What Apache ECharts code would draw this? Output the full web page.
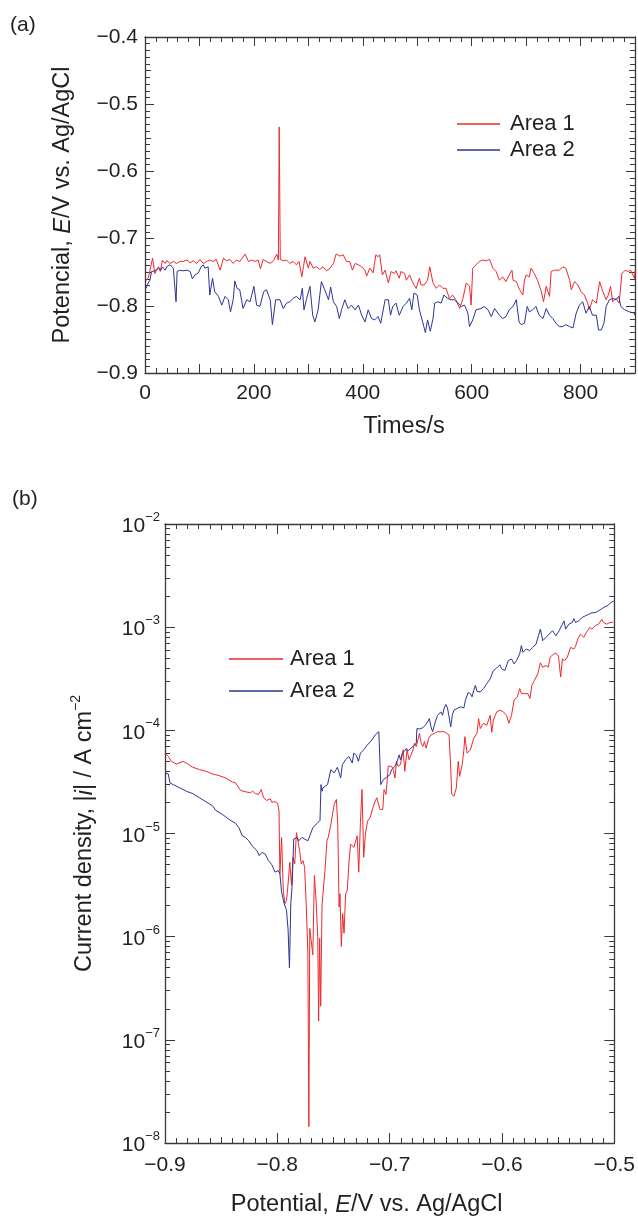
<!DOCTYPE html>
<html>
<head>
<meta charset="utf-8">
<script src="https://cdn.jsdelivr.net/npm/echarts@6/dist/echarts.min.js"></script>
<style>
html,body{margin:0;padding:0;background:#fff;}
#c{width:638px;height:1222px;}
</style>
</head>
<body>
<div id="c"></div>
<script>
// ---------- DATA ----------
const seriesNames = ['Area 1', 'Area 2'];

// (a) open circuit potential vs time: [time / s, E / V vs Ag/AgCl]
const ocpArea1 = [[2,-0.762],[6,-0.759],[14,-0.729],[18,-0.752],[21,-0.747],[25,-0.742],[28,-0.749],[32,-0.732],[37,-0.737],[40,-0.733],[46,-0.737],[52,-0.734],[58,-0.737],[64,-0.734],[70,-0.734],[77,-0.732],[83,-0.736],[89,-0.733],[95,-0.737],[101,-0.731],[107,-0.737],[113,-0.734],[119,-0.732],[125,-0.734],[131,-0.731],[138,-0.747],[144,-0.729],[150,-0.733],[156,-0.731],[162,-0.737],[168,-0.732],[174,-0.734],[184,-0.723],[190,-0.734],[196,-0.732],[202,-0.734],[208,-0.732],[212,-0.745],[217,-0.731],[223,-0.734],[230,-0.737],[236,-0.733],[242,-0.723],[245,-0.732],[246.5,-0.534],[248.5,-0.731],[254,-0.733],[260,-0.732],[266,-0.737],[272,-0.734],[278,-0.739],[283,-0.734],[288,-0.757],[291,-0.742],[294,-0.727],[300,-0.744],[303,-0.734],[309,-0.744],[315,-0.742],[321,-0.746],[327,-0.742],[333.5,-0.748],[340,-0.744],[346,-0.737],[351,-0.723],[358,-0.726],[364,-0.724],[370,-0.734],[376,-0.734],[381,-0.747],[386,-0.737],[392,-0.739],[398,-0.742],[404,-0.747],[407,-0.756],[413,-0.744],[419,-0.751],[424,-0.724],[428,-0.727],[431,-0.724],[436,-0.754],[441,-0.747],[447,-0.766],[452,-0.749],[458,-0.752],[461,-0.748],[467,-0.759],[470,-0.749],[477,-0.752],[480,-0.762],[486,-0.754],[492,-0.766],[498,-0.774],[504,-0.759],[507,-0.769],[513,-0.769],[519,-0.762],[523,-0.742],[529,-0.766],[535,-0.774],[541,-0.769],[547,-0.774],[553,-0.774],[559,-0.789],[565,-0.784],[571,-0.791],[578,-0.804],[584,-0.789],[590,-0.766],[596,-0.771],[599,-0.799],[602,-0.744],[608,-0.739],[614,-0.734],[620,-0.732],[627,-0.733],[633,-0.731],[639,-0.744],[645,-0.749],[651,-0.762],[657,-0.757],[663,-0.764],[669,-0.754],[674,-0.747],[676,-0.762],[682,-0.764],[688,-0.776],[694,-0.784],[697,-0.762],[700,-0.754],[706,-0.757],[709,-0.744],[715,-0.752],[721,-0.762],[728,-0.779],[732,-0.794],[737,-0.771],[743,-0.786],[746,-0.749],[752,-0.747],[761,-0.747],[767,-0.742],[773,-0.744],[780,-0.762],[783,-0.776],[789,-0.764],[795,-0.769],[801,-0.779],[807,-0.784],[813,-0.796],[816,-0.806],[822,-0.791],[829,-0.796],[835,-0.764],[841,-0.779],[847,-0.791],[851,-0.784],[855,-0.771],[859,-0.794],[865,-0.789],[871,-0.796],[876,-0.752],[882,-0.747],[887,-0.749],[892,-0.747],[896,-0.754],[899,-0.759],[900,-0.748]];

const ocpArea2 = [[2,-0.774],[6,-0.766],[9,-0.762],[12,-0.749],[18,-0.748],[25,-0.744],[29,-0.747],[32,-0.742],[37,-0.747],[41,-0.741],[46,-0.739],[52,-0.744],[57,-0.794],[59,-0.749],[64,-0.747],[70,-0.748],[77,-0.747],[83,-0.749],[87,-0.760],[92,-0.754],[98,-0.751],[103,-0.742],[107,-0.739],[110,-0.744],[116,-0.742],[119,-0.784],[124,-0.759],[128,-0.779],[135,-0.786],[141,-0.799],[147,-0.786],[153,-0.791],[157,-0.809],[162,-0.791],[165,-0.763],[169,-0.774],[174,-0.776],[180,-0.804],[187,-0.791],[193,-0.794],[200,-0.771],[205,-0.799],[211,-0.801],[218,-0.779],[223,-0.776],[230,-0.791],[234,-0.828],[240,-0.791],[248,-0.791],[254,-0.804],[260,-0.796],[266,-0.794],[272,-0.789],[278,-0.786],[285,-0.791],[289,-0.774],[292,-0.806],[297,-0.789],[303,-0.771],[308,-0.814],[312,-0.824],[318,-0.806],[324,-0.764],[330,-0.776],[337,-0.791],[341,-0.772],[346,-0.794],[352,-0.801],[357,-0.819],[361,-0.806],[367,-0.791],[373,-0.804],[379,-0.799],[386,-0.806],[392,-0.799],[398,-0.814],[404,-0.824],[410,-0.806],[416,-0.819],[422,-0.821],[428,-0.816],[433,-0.826],[441,-0.791],[447,-0.791],[451,-0.814],[455,-0.801],[461,-0.796],[467,-0.814],[474,-0.801],[480,-0.796],[486,-0.789],[490,-0.806],[494,-0.781],[500,-0.784],[504,-0.806],[510,-0.824],[515,-0.840],[519,-0.821],[524,-0.838],[529,-0.819],[532,-0.796],[538,-0.794],[544,-0.796],[549,-0.784],[556,-0.789],[562,-0.791],[568,-0.791],[575,-0.796],[581,-0.801],[587,-0.799],[593,-0.811],[596,-0.831],[602,-0.821],[608,-0.806],[617,-0.804],[623,-0.801],[630,-0.806],[636,-0.816],[642,-0.804],[651,-0.814],[657,-0.819],[663,-0.816],[669,-0.806],[676,-0.801],[682,-0.791],[687,-0.824],[691,-0.828],[697,-0.826],[702,-0.801],[706,-0.809],[712,-0.806],[718,-0.801],[724,-0.814],[731,-0.819],[737,-0.804],[743,-0.814],[749,-0.819],[755,-0.826],[761,-0.831],[767,-0.831],[773,-0.828],[780,-0.831],[786,-0.833],[792,-0.811],[798,-0.799],[804,-0.794],[810,-0.811],[816,-0.801],[822,-0.814],[829,-0.814],[833,-0.836],[838,-0.836],[843,-0.826],[847,-0.801],[853,-0.791],[859,-0.789],[865,-0.791],[870,-0.786],[874,-0.801],[881,-0.806],[890,-0.809],[899,-0.811],[900,-0.814]];

// (b) polarization curves: [E / V vs Ag/AgCl, |i| / A cm^-2]
const polArea1 = [[-0.9000,6.01e-5],[-0.8985,6.24e-5],[-0.8971,5.58e-5],[-0.8942,5.0e-5],[-0.8898,4.71e-5],[-0.8839,5.0e-5],[-0.8795,4.71e-5],[-0.8751,4.38e-5],[-0.8693,4.16e-5],[-0.8635,4.01e-5],[-0.8576,3.78e-5],[-0.8518,3.64e-5],[-0.8459,3.45e-5],[-0.8401,3.16e-5],[-0.8371,3.09e-5],[-0.8327,2.61e-5],[-0.8284,2.54e-5],[-0.8240,2.48e-5],[-0.8219,2.57e-5],[-0.8196,2.44e-5],[-0.8167,2.39e-5],[-0.8143,2.67e-5],[-0.8123,2.22e-5],[-0.8094,2.09e-5],[-0.8064,2.17e-5],[-0.8050,2.01e-5],[-0.8020,2.03e-5],[-0.7997,1.96e-5],[-0.7985,1.65e-5],[-0.7977,4.06e-6],[-0.7962,9.16e-6],[-0.7947,2.81e-6],[-0.7933,2.09e-6],[-0.7918,2.25e-6],[-0.7904,3.26e-6],[-0.7889,5.26e-6],[-0.7874,3.14e-6],[-0.7860,5.88e-6],[-0.7845,5.07e-6],[-0.7830,1.02e-5],[-0.7816,9.86e-6],[-0.7801,6.81e-6],[-0.7787,5.07e-6],[-0.7772,5.46e-6],[-0.7757,4.71e-6],[-0.7743,2.09e-6],[-0.7728,6.92e-7],[-0.7719,1.44e-8],[-0.7711,1.20e-6],[-0.7699,1.16e-6],[-0.7684,6.67e-7],[-0.7670,3.92e-6],[-0.7655,2.25e-6],[-0.7640,1.0e-6],[-0.7632,1.52e-7],[-0.7623,9.64e-7],[-0.7614,2.12e-7],[-0.7602,2.01e-6],[-0.7591,1.94e-6],[-0.7576,4.38e-6],[-0.7558,8.49e-6],[-0.7547,9.16e-6],[-0.7523,1.23e-5],[-0.7494,1.91e-5],[-0.7474,2.14e-5],[-0.7462,1.23e-5],[-0.7450,1.94e-6],[-0.7442,2.61e-6],[-0.7430,8.02e-7],[-0.7418,1.67e-6],[-0.7406,1.08e-6],[-0.7392,2.61e-6],[-0.7377,2.81e-6],[-0.7363,5.07e-6],[-0.7348,7.89e-6],[-0.7319,7.33e-6],[-0.7289,9.51e-6],[-0.7275,4.22e-6],[-0.7260,1.28e-5],[-0.7246,2.67e-5],[-0.7231,5.88e-6],[-0.7216,9.86e-6],[-0.7196,1.32e-5],[-0.7173,1.43e-5],[-0.7149,1.78e-5],[-0.7129,2.06e-5],[-0.7114,2.22e-5],[-0.7085,1.71e-5],[-0.7061,1.71e-5],[-0.7050,2.67e-5],[-0.7032,2.39e-5],[-0.7012,4.48e-5],[-0.6982,4.48e-5],[-0.6968,4.16e-5],[-0.6953,3.45e-5],[-0.6939,5.0e-5],[-0.6924,4.48e-5],[-0.6904,4.64e-5],[-0.6880,6.47e-5],[-0.6865,4.01e-5],[-0.6845,6.47e-5],[-0.6827,5.19e-5],[-0.6810,5.0e-5],[-0.6792,6.47e-5],[-0.6778,7.50e-5],[-0.6763,6.97e-5],[-0.6749,7.23e-5],[-0.6734,9.35e-5],[-0.6719,7.50e-5],[-0.6705,6.97e-5],[-0.6690,7.78e-5],[-0.6675,6.71e-5],[-0.6652,8.38e-5],[-0.6632,9.02e-5],[-0.6602,9.35e-5],[-0.6573,9.70e-5],[-0.6544,9.70e-5],[-0.6515,9.70e-5],[-0.6491,9.35e-5],[-0.6471,9.02e-5],[-0.6456,4.31e-5],[-0.6447,2.39e-5],[-0.6427,2.30e-5],[-0.6406,2.77e-5],[-0.6389,5.0e-5],[-0.6377,3.58e-5],[-0.6354,4.64e-5],[-0.6339,6.47e-5],[-0.6330,8.69e-5],[-0.6310,6.01e-5],[-0.6281,6.47e-5],[-0.6251,8.38e-5],[-0.6222,9.35e-5],[-0.6208,1.30e-4],[-0.6193,1.04e-4],[-0.6164,1.17e-4],[-0.6135,1.12e-4],[-0.6120,1.17e-4],[-0.6105,1.40e-4],[-0.6091,9.57e-5],[-0.6076,1.26e-4],[-0.6047,1.51e-4],[-0.6018,1.57e-4],[-0.5988,1.51e-4],[-0.5959,1.40e-4],[-0.5939,1.17e-4],[-0.5915,1.40e-4],[-0.5892,1.96e-4],[-0.5863,2.11e-4],[-0.5842,2.54e-4],[-0.5827,2.27e-4],[-0.5798,2.27e-4],[-0.5769,2.27e-4],[-0.5751,2.03e-4],[-0.5734,2.73e-4],[-0.5711,3.05e-4],[-0.5681,3.53e-4],[-0.5658,4.51e-4],[-0.5637,4.09e-4],[-0.5608,4.25e-4],[-0.5588,4.09e-4],[-0.5570,5.11e-4],[-0.5550,5.38e-4],[-0.5520,5.62e-4],[-0.5497,5.22e-4],[-0.5477,3.28e-4],[-0.5462,4.92e-4],[-0.5442,4.74e-4],[-0.5418,5.11e-4],[-0.5389,6.37e-4],[-0.5360,6.14e-4],[-0.5345,6.52e-4],[-0.5325,7.67e-4],[-0.5301,8.57e-4],[-0.5272,7.96e-4],[-0.5249,8.89e-4],[-0.5219,9.93e-4],[-0.5199,9.57e-4],[-0.5170,1.03e-3],[-0.5140,1.07e-3],[-0.5111,1.19e-3],[-0.5096,1.11e-3],[-0.5067,1.07e-3],[-0.5038,1.11e-3],[-0.5009,1.12e-3]];

const polArea2 = [[-0.9000,3.86e-5],[-0.8985,3.86e-5],[-0.8971,3.78e-5],[-0.8956,3.09e-5],[-0.8927,2.98e-5],[-0.8868,2.77e-5],[-0.8810,2.57e-5],[-0.8751,2.43e-5],[-0.8693,2.22e-5],[-0.8635,2.03e-5],[-0.8576,1.85e-5],[-0.8547,1.67e-5],[-0.8488,1.53e-5],[-0.8430,1.37e-5],[-0.8371,1.25e-5],[-0.8342,1.14e-5],[-0.8313,9.51e-6],[-0.8284,9.16e-6],[-0.8254,8.49e-6],[-0.8225,7.60e-6],[-0.8181,6.81e-6],[-0.8161,6.10e-6],[-0.8137,6.56e-6],[-0.8108,6.32e-6],[-0.8079,5.46e-6],[-0.8050,5.0e-6],[-0.8020,4.22e-6],[-0.8006,4.06e-6],[-0.7991,4.38e-6],[-0.7977,4.06e-6],[-0.7962,2.71e-6],[-0.7939,2.09e-6],[-0.7918,1.80e-6],[-0.7904,1.16e-6],[-0.7892,4.97e-7],[-0.7880,2.09e-6],[-0.7868,3.14e-6],[-0.7854,8.83e-6],[-0.7839,8.83e-6],[-0.7822,9.16e-6],[-0.7810,8.49e-6],[-0.7798,8.19e-6],[-0.7781,9.16e-6],[-0.7757,8.83e-6],[-0.7728,8.49e-6],[-0.7705,9.86e-6],[-0.7684,1.14e-5],[-0.7646,1.25e-5],[-0.7620,1.34e-5],[-0.7611,2.98e-5],[-0.7602,2.57e-5],[-0.7594,2.77e-5],[-0.7582,2.67e-5],[-0.7553,2.98e-5],[-0.7523,4.16e-5],[-0.7494,3.86e-5],[-0.7465,4.38e-5],[-0.7436,3.45e-5],[-0.7421,4.64e-5],[-0.7392,5.19e-5],[-0.7363,5.58e-5],[-0.7333,4.82e-5],[-0.7319,6.01e-5],[-0.7295,5.70e-5],[-0.7278,5.0e-5],[-0.7260,6.01e-5],[-0.7231,6.47e-5],[-0.7202,7.13e-5],[-0.7187,6.97e-5],[-0.7158,8.07e-5],[-0.7129,9.02e-5],[-0.7096,9.70e-5],[-0.7079,2.98e-5],[-0.7056,3.33e-5],[-0.7026,3.51e-5],[-0.6997,3.72e-5],[-0.6982,4.16e-5],[-0.6968,4.31e-5],[-0.6953,4.48e-5],[-0.6939,4.82e-5],[-0.6924,5.38e-5],[-0.6915,5.79e-5],[-0.6904,5.19e-5],[-0.6886,6.01e-5],[-0.6865,6.32e-5],[-0.6851,6.71e-5],[-0.6836,6.32e-5],[-0.6822,6.47e-5],[-0.6792,6.97e-5],[-0.6778,7.23e-5],[-0.6763,7.50e-5],[-0.6757,1.04e-4],[-0.6734,1.03e-4],[-0.6705,1.06e-4],[-0.6675,1.14e-4],[-0.6661,1.17e-4],[-0.6646,1.30e-4],[-0.6632,1.08e-4],[-0.6617,9.70e-5],[-0.6602,1.12e-4],[-0.6588,1.26e-4],[-0.6573,1.40e-4],[-0.6558,1.40e-4],[-0.6544,1.51e-4],[-0.6529,1.40e-4],[-0.6515,1.63e-4],[-0.6500,1.78e-4],[-0.6485,1.65e-4],[-0.6471,1.35e-4],[-0.6456,1.08e-4],[-0.6442,1.40e-4],[-0.6427,1.57e-4],[-0.6398,1.63e-4],[-0.6368,1.69e-4],[-0.6339,1.65e-4],[-0.6325,1.96e-4],[-0.6301,2.32e-4],[-0.6281,2.27e-4],[-0.6266,2.11e-4],[-0.6251,2.44e-4],[-0.6237,2.73e-4],[-0.6222,2.39e-4],[-0.6193,2.35e-4],[-0.6164,2.54e-4],[-0.6135,2.83e-4],[-0.6105,3.16e-4],[-0.6076,3.80e-4],[-0.6047,4.01e-4],[-0.6018,4.32e-4],[-0.6003,3.95e-4],[-0.5974,3.80e-4],[-0.5944,4.74e-4],[-0.5915,4.92e-4],[-0.5892,4.41e-4],[-0.5871,4.74e-4],[-0.5842,5.50e-4],[-0.5827,6.62e-4],[-0.5813,5.70e-4],[-0.5784,6.14e-4],[-0.5754,5.92e-4],[-0.5725,6.37e-4],[-0.5696,6.87e-4],[-0.5675,8.26e-4],[-0.5658,9.57e-4],[-0.5637,7.40e-4],[-0.5608,7.96e-4],[-0.5579,8.57e-4],[-0.5550,9.23e-4],[-0.5535,8.89e-4],[-0.5520,8.26e-4],[-0.5491,9.23e-4],[-0.5462,1.07e-3],[-0.5447,1.15e-3],[-0.5433,9.57e-4],[-0.5404,1.07e-3],[-0.5374,1.11e-3],[-0.5360,1.21e-3],[-0.5345,1.11e-3],[-0.5316,1.15e-3],[-0.5287,1.24e-3],[-0.5257,1.29e-3],[-0.5228,1.33e-3],[-0.5199,1.38e-3],[-0.5170,1.38e-3],[-0.5140,1.44e-3],[-0.5111,1.51e-3],[-0.5082,1.58e-3],[-0.5053,1.63e-3],[-0.5032,1.73e-3],[-0.5015,1.71e-3],[-0.5003,1.79e-3]];

const decadeTicks = [1e-8, 1e-7, 1e-6, 1e-5, 1e-4, 1e-3, 1e-2];
const timeLabelStep = 200;

// ---------- STYLE ----------
const FONT = '"Liberation Sans", Arial, Helvetica, sans-serif';
const TXT = '#231f20';
const AXC = '#3a3a3a';
const RED = '#ee2a2e';
const BLUE = '#2b3594';

const minorLogTicks = [];
for (let e = -8; e < -2; e++) for (let m = 2; m <= 9; m++) minorLogTicks.push(m * Math.pow(10, e));

function minus(v, d) { return (v < 0 ? '\u2212' : '') + Math.abs(v).toFixed(d); }

function axis(o) {
  const a = {
    type: o.type || 'value', gridIndex: o.grid, position: o.pos,
    min: o.min, max: o.max,
    axisLine: { show: !!o.line, onZero: false, lineStyle: { color: AXC, width: 1.3 } },
    axisTick: { show: true, inside: true, length: o.len, lineStyle: { color: AXC, width: 1 } },
    minorTick: { show: !!o.minor, splitNumber: o.minor || 5, length: 5, lineStyle: { color: AXC, width: 1 } },
    axisLabel: o.label || { show: false },
    splitLine: { show: false }, minorSplitLine: { show: false }
  };
  if (o.interval != null) a.interval = o.interval;
  if (o.custom) a.axisTick.customValues = o.custom;
  if (o.type === 'log') a.logBase = 10;
  if (o.name) { Object.assign(a, o.name); }
  return a;
}

const lblA_x = { show: true, color: TXT, fontSize: 21, fontFamily: FONT, margin: 10,
  formatter: v => (Math.round(v) % timeLabelStep === 0 ? String(Math.round(v)) : '') };
const lblA_y = { show: true, color: TXT, fontSize: 21, fontFamily: FONT, margin: 7,
  formatter: v => minus(v, 1) };
const lblB_x = { show: true, color: TXT, fontSize: 21, fontFamily: FONT, margin: 12,
  formatter: v => minus(v, 1) };
const lblB_y = { show: true, color: TXT, fontFamily: FONT, margin: 5, customValues: decadeTicks,
  formatter: v => '{b|10}{s|\u2212' + Math.abs(Math.round(Math.log10(v))) + '}',
  rich: { b: { fontSize: 21, color: TXT, fontFamily: FONT, lineHeight: 26, verticalAlign: 'bottom' },
          s: { fontSize: 13, color: TXT, fontFamily: FONT, lineHeight: 26, verticalAlign: 'top' } } };

const nameRich = {
  n: { fontSize: 23.5, color: TXT, fontFamily: FONT, lineHeight: 28, verticalAlign: 'bottom' },
  i: { fontSize: 23.5, color: TXT, fontFamily: FONT, fontStyle: 'italic', lineHeight: 28, verticalAlign: 'bottom' },
  s: { fontSize: 14, color: TXT, fontFamily: FONT, lineHeight: 28, verticalAlign: 'top' }
};

const xAxes = [
  // grid 0 (a)
  axis({ grid: 0, pos: 'bottom', min: 0, max: 900, interval: 100, len: 9, minor: 5, line: true, label: lblA_x,
    name: { name: 'Times/s', nameLocation: 'middle', nameGap: 42,
      nameTextStyle: { fontSize: 23.5, color: TXT, fontFamily: FONT, padding: [0, 0, 0, 28] } } }),
  axis({ grid: 0, pos: 'top', min: 0, max: 900, interval: 100, len: 9, minor: 5, line: true }),
  // grid 1 (b)
  axis({ grid: 1, pos: 'bottom', min: -0.9, max: -0.5, interval: 0.1, len: 10, minor: 10, line: true, label: lblB_x,
    name: { name: '{n|Potential, }{i|E}{n|/V vs. Ag/AgCl}', nameLocation: 'middle', nameGap: 46,
      nameTextStyle: { rich: nameRich, padding: [0, 46, 0, 0] } } }),
  axis({ grid: 1, pos: 'bottom', min: -0.9, max: -0.5, interval: 0.05, len: 6 }),
  axis({ grid: 1, pos: 'top', min: -0.9, max: -0.5, interval: 0.1, len: 10, minor: 10, line: true }),
  axis({ grid: 1, pos: 'top', min: -0.9, max: -0.5, interval: 0.05, len: 6 })
];

const yAxes = [
  // grid 0 (a)
  axis({ grid: 0, pos: 'left', min: -0.9, max: -0.4, interval: 0.1, len: 9, minor: 10, line: true, label: lblA_y,
    name: { name: '{n|Potencial, }{i|E}{n|/V vs. Ag/AgCl}', nameLocation: 'middle', nameGap: 70,
      nameTextStyle: { rich: nameRich } } }),
  axis({ grid: 0, pos: 'left', min: -0.9, max: -0.4, interval: 0.05, len: 6 }),
  axis({ grid: 0, pos: 'right', min: -0.9, max: -0.4, interval: 0.1, len: 9, minor: 10, line: true }),
  axis({ grid: 0, pos: 'right', min: -0.9, max: -0.4, interval: 0.05, len: 6 }),
  // grid 1 (b)
  axis({ grid: 1, pos: 'left', type: 'log', min: 1e-8, max: 1e-2, len: 10, line: true, custom: decadeTicks, label: lblB_y,
    name: { name: '{n|Current density, |}{i|i}{n|| / A cm}{s|\u22122}', nameLocation: 'middle', nameGap: 68,
      nameTextStyle: { rich: nameRich } } }),
  axis({ grid: 1, pos: 'left', type: 'log', min: 1e-8, max: 1e-2, len: 5, custom: minorLogTicks }),
  axis({ grid: 1, pos: 'right', type: 'log', min: 1e-8, max: 1e-2, len: 10, line: true, custom: decadeTicks }),
  axis({ grid: 1, pos: 'right', type: 'log', min: 1e-8, max: 1e-2, len: 5, custom: minorLogTicks })
];

function lineSeries(name, data, color, xi, yi) {
  return { name: name, type: 'line', data: data, xAxisIndex: xi, yAxisIndex: yi,
    showSymbol: false, symbol: 'none', clip: true,
    lineStyle: { color: color, width: 1 }, itemStyle: { color: color } };
}

const legendText = { fontSize: 22, color: TXT, fontFamily: FONT, lineHeight: 22 };

const option = {
  animation: false,
  backgroundColor: '#fff',
  grid: [
    { left: 145, top: 37, width: 490, height: 336, containLabel: false },
    { left: 165, top: 524, width: 456, height: 624, containLabel: false }
  ],
  xAxis: xAxes,
  yAxis: yAxes,
  legend: [
    { left: 452, top: 108, orient: 'vertical', itemWidth: 43, itemHeight: 1.5, itemGap: 4, icon: 'rect',
      data: seriesNames, textStyle: Object.assign({ padding: [0, 0, 0, 5] }, legendText), selectedMode: false },
    { left: 224, top: 643, orient: 'vertical', itemWidth: 54, itemHeight: 1.5, itemGap: 10, icon: 'rect',
      data: seriesNames, textStyle: Object.assign({ padding: [0, 0, 0, 2] }, legendText), selectedMode: false }
  ],
  graphic: [
    { type: 'text', left: 10, top: 15, style: { text: '(a)', fontSize: 21, fill: TXT, fontFamily: FONT } },
    { type: 'text', left: 12, top: 489, style: { text: '(b)', fontSize: 21, fill: TXT, fontFamily: FONT } }
  ],
  series: [
    lineSeries(seriesNames[0], ocpArea1, RED, 0, 0),
    lineSeries(seriesNames[1], ocpArea2, BLUE, 0, 0),
    lineSeries(seriesNames[0], polArea1, RED, 2, 4),
    lineSeries(seriesNames[1], polArea2, BLUE, 2, 4)
  ]
};

const chart = echarts.init(document.getElementById('c'), null, { renderer: 'canvas' });
chart.setOption(option);
</script>
</body>
</html>
